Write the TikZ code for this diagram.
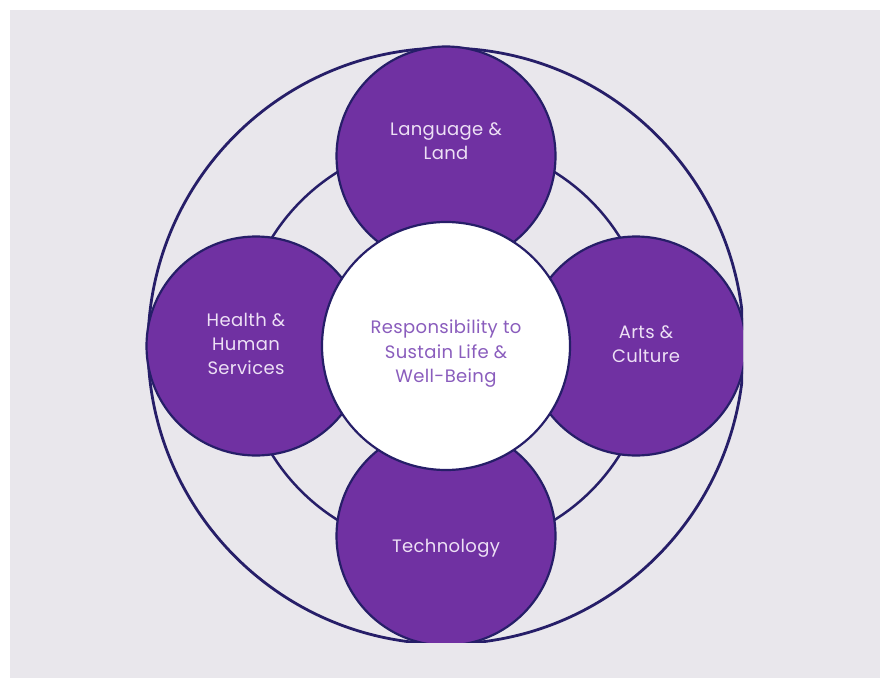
\documentclass[tikz,border=0pt]{standalone}
\usepackage{fontspec}
\setmainfont[LetterSpace=2]{Poppins}
\usepackage{tikz}
\definecolor{paper}{HTML}{E9E7EC}
\definecolor{ink}{HTML}{261E68}
\definecolor{plum}{HTML}{7031A2}
\definecolor{lilac}{HTML}{EDE0F5}
\definecolor{softplum}{HTML}{8A5DBD}
\tikzset{
  ring/.style={draw=ink,line width=2.8pt},
  topic/.style={circle,draw=ink,line width=2.2pt,fill=plum,minimum size=219pt,inner sep=0pt},
  hub/.style={circle,draw=ink,line width=2.2pt,fill=white,minimum size=248pt,inner sep=0pt},
  topiclabel/.style={text=lilac,align=center,font=\fontsize{18}{24}\selectfont},
  hublabel/.style={text=softplum,align=center,font=\fontsize{18}{24.5}\selectfont}
}

\begin{document}
\begin{tikzpicture}[x=1pt,y=-1pt]
    \useasboundingbox (0,0) rectangle (885,679);
    \fill[paper] (10,10) rectangle (880,678);
    \begin{scope}
    \clip (10,10) rectangle (743,642);
    \draw[ring] (446,346) circle (298pt);
    \draw[ring,line width=2.5pt] (446,346) circle (205pt);
    \node[topic] (lang) at (446,156) {};
    \node[topic] (health) at (256,346) {};
    \node[topic] (arts) at (636,346) {};
    \node[topic] (tech) at (446,536) {};
    \node[hub] (core) at (446,346) {};
    \end{scope}
    \node[topiclabel] (langtext) at (446,141) {Language \&\\Land};
    \node[topiclabel] (healthtext) at (246,344) {Health \&\\Human\\Services};
    \node[topiclabel] (artstext) at (646,344) {Arts \&\\Culture};
    \node[topiclabel] (techtext) at (446,548) {Technology};
    \node[hublabel] (coretext) at (446,354) {Responsibility to\\Sustain Life \&\\Well-Being};
\end{tikzpicture}
\end{document}
